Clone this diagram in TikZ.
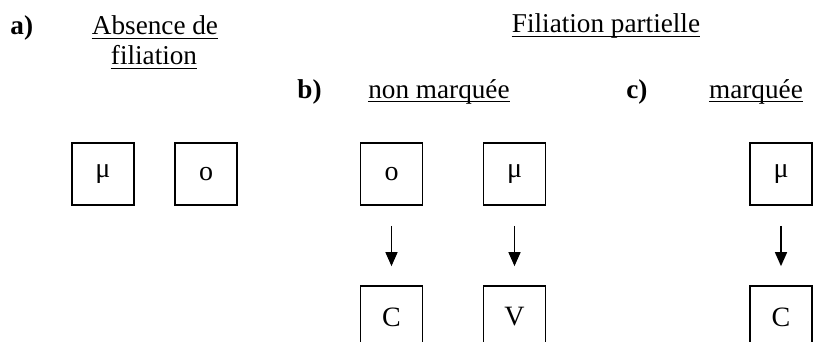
\documentclass[tikz,border=0pt]{standalone}
\usepackage{fontspec}
\setmainfont{Liberation Serif}
\usetikzlibrary{arrows.meta}
\begin{document}
\begin{tikzpicture}[x=0.5pt,y=-0.5pt,
  txt/.style={inner sep=0pt, anchor=base, font=\fontsize{13.6}{16}\selectfont},
  tag/.style={inner sep=0pt, anchor=base west, font=\fontsize{13.6}{16}\selectfont\bfseries},
  ul/.style={line width=0.6pt},
  box/.style={draw, line width=0.85pt, minimum width=31pt, minimum height=31pt, inner sep=0pt, font=\fontsize{14}{16}\selectfont},
  arr/.style={line width=0.75pt, -{Triangle[length=7pt,width=6pt]}}]
\useasboundingbox (0,0) rectangle (819,342);
\clip (0,0) rectangle (819,342);
% headings
\node[tag] (ta) at (10,35) {a)};
\node[txt] (h1) at (155,35) {Absence de};
\node[txt] (h2) at (154,65) {filiation};
\node[txt] (h3) at (606,33) {Filiation partielle};
\node[tag] (tb) at (297,98) {b)};
\node[txt] (h4) at (439,98) {non marquée};
\node[tag] (tc) at (626,98) {c)};
\node[txt] (h5) at (756,98) {marquée};
\foreach \n in {h1,h2,h3,h4,h5}{
  \draw[ul] ([yshift=-1.6pt]\n.base west) -- ([yshift=-1.6pt]\n.base east);
}
% boxes
\node[box] (a1) at (103,174) {μ};
\node[box] (a2) at (206,174) {o};
\node[box] (b1) at (391.5,174) {o};
\node[box] (b2) at (514.5,174) {μ};
\node[box] (c1) at (781,174) {μ};
\node[box] (b3) at (391.5,317) {C};
\node[box] (b4) at (514.5,317) {V};
\node[box] (c2) at (781,317) {C};
% arrows
\draw[arr] ([yshift=-10pt]b1.south) -- ([yshift=9.5pt]b3.north);
\draw[arr] ([yshift=-10pt]b2.south) -- ([yshift=9.5pt]b4.north);
\draw[arr] ([yshift=-10pt]c1.south) -- ([yshift=9.5pt]c2.north);
\end{tikzpicture}
\end{document}
